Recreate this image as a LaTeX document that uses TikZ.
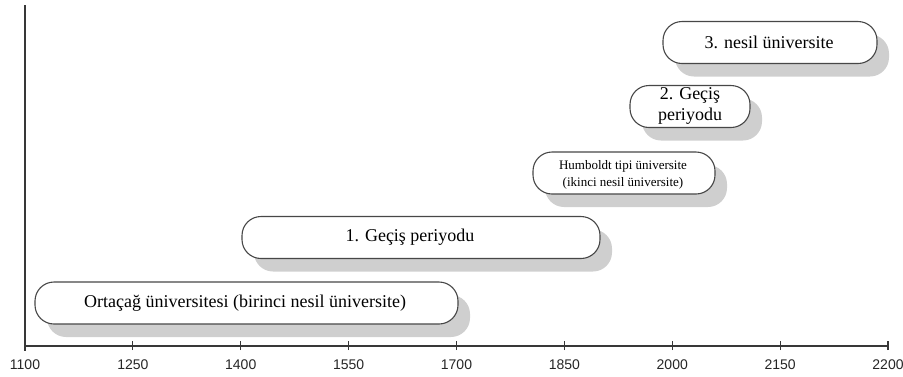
\documentclass[tikz,border=0pt]{standalone}
\usepackage{fontspec}
\setmainfont{Liberation Serif}
\newfontfamily\ticksf{Liberation Sans}
\begin{document}
\begin{tikzpicture}[x=1pt,y=-1pt,
  pill/.style={draw=black!72, line width=1.1pt, fill=white, rounded corners=19pt, inner sep=0pt, minimum height=42pt},
  pillshadow/.style={fill=black!19, draw=none, rounded corners=19pt, inner sep=0pt, minimum height=42pt},
  txt/.style={font=\fontsize{18}{21}\selectfont, align=center, inner sep=0pt},
  smalltxt/.style={font=\fontsize{13}{17}\selectfont, align=center, inner sep=0pt},
  axisline/.style={draw=black!78, line width=1.4pt},
  tickline/.style={draw=black!78, line width=1.2pt},
  ticklabel/.style={font=\ticksf\fontsize{14}{14}\selectfont, text=black!85, inner sep=0pt}]
\useasboundingbox (0,0) rectangle (903,376);
% axes
\coordinate (top) at (25,5);
\coordinate (origin) at (25,346);
\coordinate (bottom) at (25,351);
\coordinate (axend) at (888,346);
\draw[axisline] (top) -- (bottom);
\draw[axisline] (origin) -- (axend);
\foreach \i/\lab in {0/1100,1/1250,2/1400,3/1550,4/1700,5/1850,6/2000,7/2150,8/2200}{
  \coordinate (t\i) at ({25+\i*107.875},346);
  \ifnum\i>0 \draw[tickline] ([yshift=-4pt]t\i) -- ([yshift=5pt]t\i);\fi
  \node[ticklabel] (l\i) at ({25+\i*107.875},365) {\lab};
}
% boxes: name / cx / cy / width
\foreach \n/\x/\y/\w in {b1/246.5/303/423, b2/421/237.5/358, b3/624/173/182, b4/690/106.5/120, b5/770/42.5/214}{
  \node[pillshadow, minimum width=\w pt] (s\n) at ({\x+12},{\y+13}) {};
  \node[pill, minimum width=\w pt] (\n) at (\x,\y) {};
}
\node[txt] (t1) at (245,303) {Ortaçağ üniversitesi (birinci nesil üniversite)};
\node[txt] (t2) at (410,237) {1. Geçiş periyodu};
\node[smalltxt] (t3) at (623,175) {Humboldt tipi üniversite\\(ikinci nesil üniversite)};
\node[txt] (t4) at (690,106) {2. Geçiş\\periyodu};
\node[txt] (t5) at (769,42) {3. nesil üniversite};
\end{tikzpicture}
\end{document}
